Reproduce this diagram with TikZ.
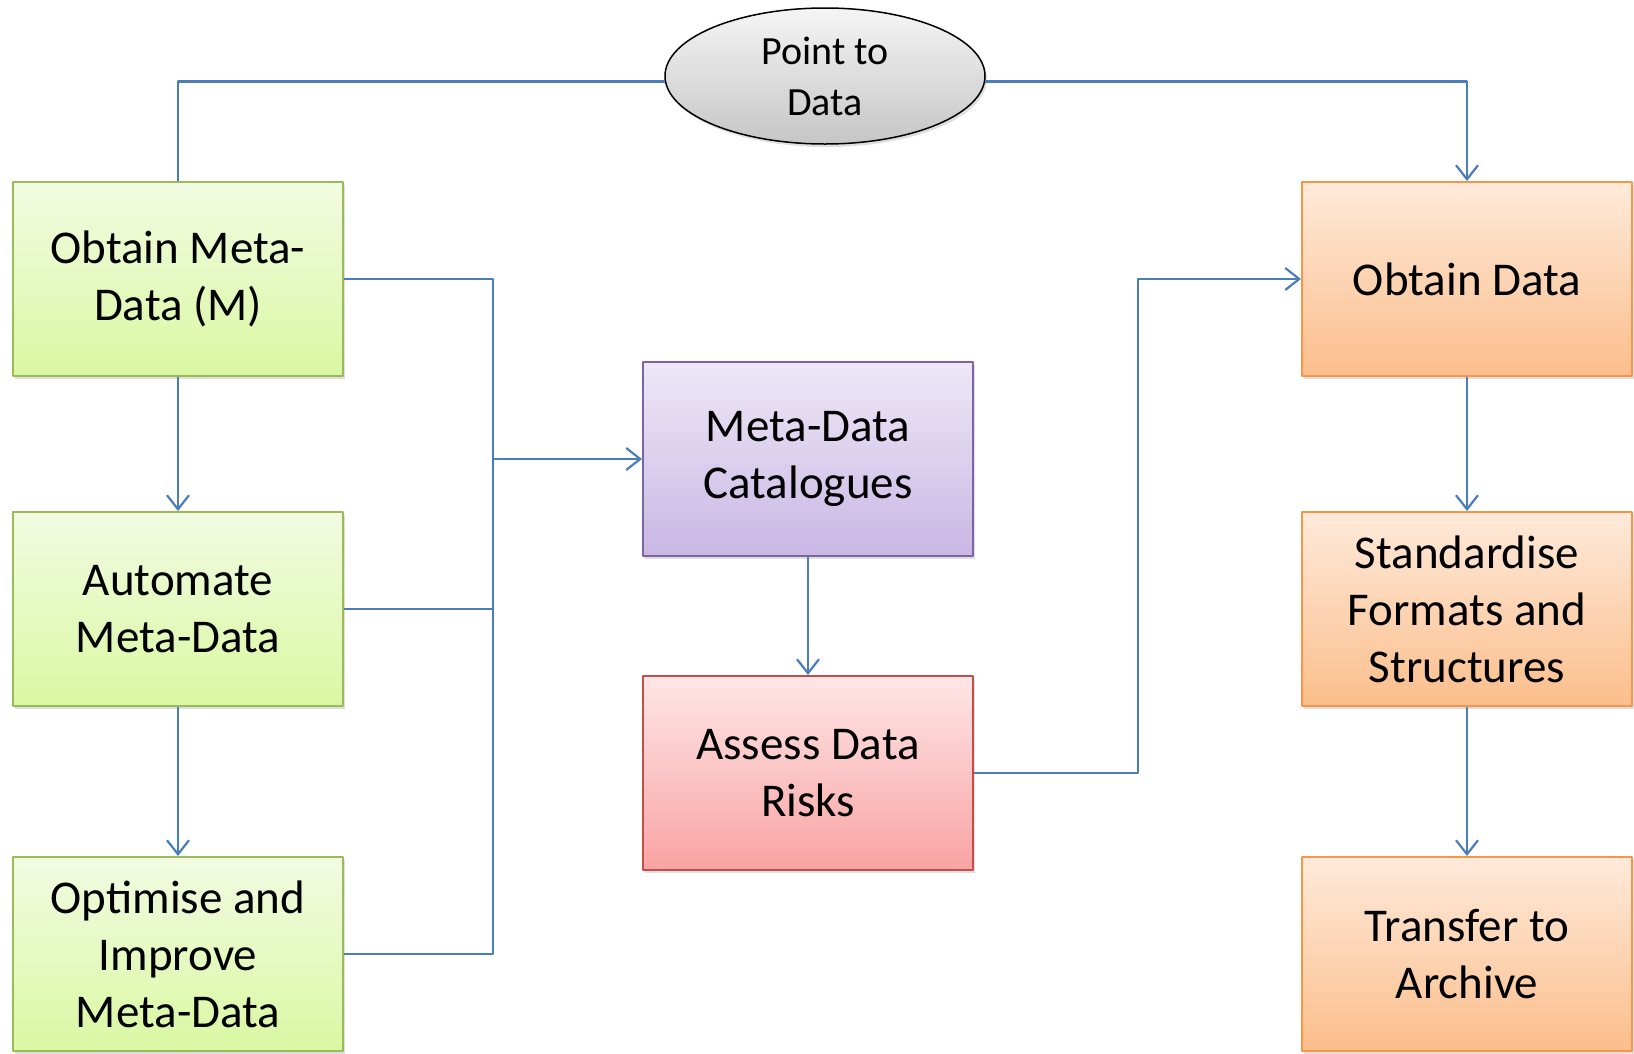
\documentclass[tikz,border=0pt]{standalone}
\usepackage{fontspec}
\setmainfont{Carlito}
\usetikzlibrary{arrows.meta,positioning,calc,shapes,shadows}

\definecolor{linkblue}{HTML}{4A7EBB}
\definecolor{greenedge}{HTML}{9BBB59}
\definecolor{greentop}{HTML}{F2FBE2}
\definecolor{greenbot}{HTML}{D9F8A2}
\definecolor{purpleedge}{HTML}{8064A2}
\definecolor{purpletop}{HTML}{EEE8F7}
\definecolor{purplebot}{HTML}{C9B7E4}
\definecolor{rededge}{HTML}{C0504D}
\definecolor{redtop}{HTML}{FEE6E6}
\definecolor{redbot}{HTML}{F9A3A3}
\definecolor{orangeedge}{HTML}{F79646}
\definecolor{orangetop}{HTML}{FEEADA}
\definecolor{orangebot}{HTML}{FBBE8C}
\tikzset{
  box/.style={draw, line width=2pt, minimum width=330pt, minimum height=194pt, inner sep=0pt,
    align=center, font=\fontsize{47}{57}\selectfont,
    drop shadow={shadow xshift=2pt, shadow yshift=-3pt, opacity=0.25}},
  greenbox/.style={box, draw=greenedge, top color=greentop, bottom color=greenbot},
  purplebox/.style={box, draw=purpleedge, top color=purpletop, bottom color=purplebot},
  redbox/.style={box, draw=rededge, top color=redtop, bottom color=redbot},
  orangebox/.style={box, draw=orangeedge, top color=orangetop, bottom color=orangebot},
  link/.style={draw=linkblue, line width=2.2pt},
  arr/.style={link, -{Straight Barb[length=14pt,width=22pt,line width=2.2pt]}}
}

\begin{document}
\begin{tikzpicture}[x=1pt, y=-1pt, line join=round]
\useasboundingbox (0,0) rectangle (1634,1053);
% left column
\node[greenbox] (obm)  at (178,279) {Obtain Meta-\\Data (M)};
\node[greenbox] (amd)  at (178,609) {Automate\\Meta-Data};
\node[greenbox] (oimd) at (178,954) {Optimise and\\Improve\\Meta-Data};
% middle column
\node[purplebox] (mdc) at (808,459) {Meta-Data\\Catalogues};
\node[redbox]    (adr) at (808,773) {Assess Data\\Risks};
% right column
\node[orangebox] (od)  at (1467,279) {Obtain Data};
\node[orangebox] (sfs) at (1467,609) {Standardise\\Formats and\\Structures};
\node[orangebox] (ta)  at (1467,954) {Transfer to\\Archive};
% top
\node[ellipse, draw, line width=1.5pt, minimum width=320pt, minimum height=136pt, inner sep=0pt,
  top color=gray!8, bottom color=gray!45, align=center, font=\fontsize{40}{51}\selectfont,
  drop shadow={shadow xshift=2pt, shadow yshift=-3pt, opacity=0.25}] (ptd) at (825,76) {Point to\\Data};

\coordinate (jn) at (493,0);
\coordinate (bend) at (1138,0);

\draw[link] (ptd.182) -| (obm.north);
\draw[arr]  (ptd.358) -| (od.north);
\draw[arr]  (obm) -- (amd);
\draw[arr]  (amd) -- (oimd);
\draw[arr]  (od) -- (sfs);
\draw[arr]  (sfs) -- (ta);
\draw[link] (obm.east) -| (jn |- oimd.east) -- (oimd.east);
\draw[link] (amd.east) -- (jn |- amd.east);
\draw[arr]  (jn |- mdc.west) -- (mdc.west);
\draw[arr]  (mdc) -- (adr);
\draw[arr]  (adr.east) -- (bend |- adr.east) |- (od.west);
\end{tikzpicture}
\end{document}
